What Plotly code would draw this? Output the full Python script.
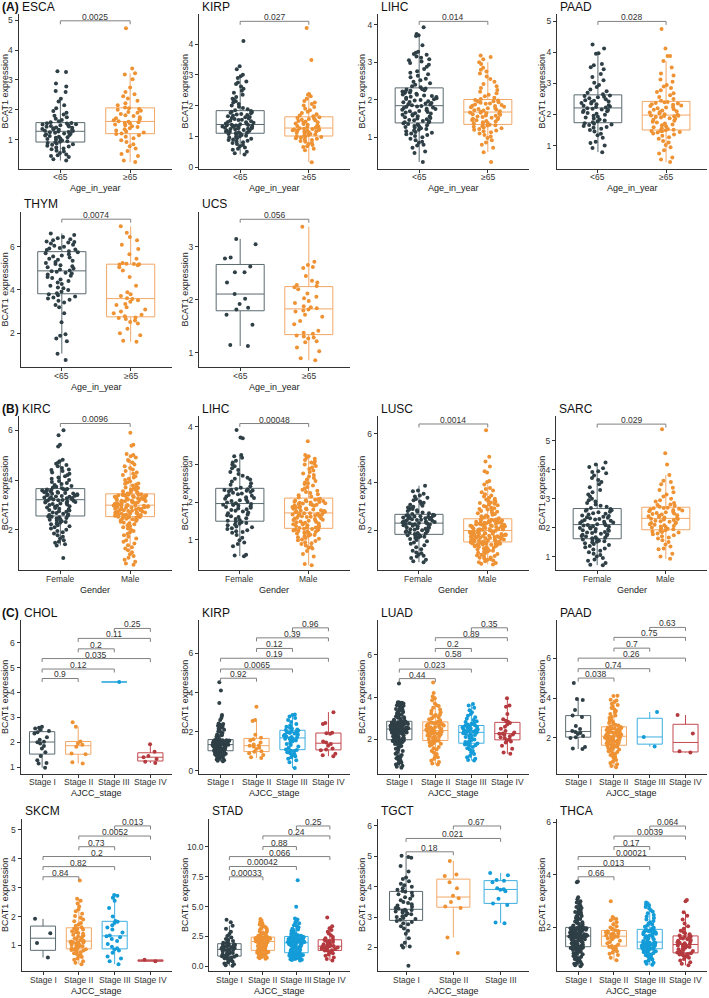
import plotly.graph_objects as go

W, H = 709, 998
FONT = "Liberation Sans, Arial, Helvetica, sans-serif"

PT = ["#2F3F46", "#EE9233", "#139CD8", "#B43A3F"]      # point colours per group
BX = ["#5A6A70", "#F2A766", "#3DAEE0", "#C24A4F"]      # box outline colours per group
AX = "#333333"

AGE = ["<65", "\u226565"]
SEX = ["Female", "Male"]
STAGE4 = ["Stage I", "Stage II", "Stage III", "Stage IV"]
STAGE3 = ["Stage I", "Stage II", "Stage III"]

# ---------------- data (BCAT1 expression) ----------------
esca_lt65 = [0.30, 0.34, 0.42, 0.45, 0.48, 0.50, 0.55, 0.60, 0.63, 0.68, 0.70, 0.74, 0.77, 0.80, 0.83, 0.85, 0.87, 0.89, 0.91,
             0.93, 0.95, 0.97, 1.00, 1.02, 1.04, 1.06, 1.08, 1.10, 1.12, 1.14, 1.16, 1.18, 1.20, 1.21, 1.23, 1.25, 1.26, 1.27,
             1.29, 1.30, 1.32, 1.33, 1.35, 1.36, 1.38, 1.40, 1.41, 1.43, 1.44, 1.46, 1.48, 1.49, 1.51, 1.52, 1.54, 1.55, 1.56,
             1.58, 1.62, 1.66, 1.70, 1.75, 1.80, 1.84, 1.90, 1.96, 2.05, 2.15, 2.28, 2.37, 2.60, 2.63, 2.78, 2.88, 3.27, 3.29]
esca_ge65 = [0.25, 0.30, 0.45, 0.52, 0.62, 0.70, 0.78, 0.85, 0.92, 0.98, 1.05, 1.10, 1.15, 1.19,
             1.21, 1.24, 1.27, 1.31, 1.35, 1.38, 1.42, 1.45, 1.48, 1.51, 1.54, 1.56, 1.58, 1.60,
             1.62, 1.65, 1.68, 1.72, 1.75, 1.79, 1.82, 1.86, 1.90, 1.93, 1.97, 2.00, 2.03, 2.05,
             2.08, 2.15, 2.22, 2.30, 2.38, 2.45, 2.52, 2.60, 2.75, 3.02, 3.18, 3.22, 3.38, 4.73]
kirpa_lt65 = [0.41, 0.45, 0.50, 0.56, 0.60, 0.64, 0.68, 0.72, 0.75, 0.78, 0.81, 0.84, 0.86, 0.88, 0.90, 0.92, 0.94, 0.96, 0.98, 1.00, 1.02, 1.04, 1.06, 1.08, 1.09,
              1.11, 1.12, 1.13, 1.15, 1.16, 1.17, 1.19, 1.20, 1.21, 1.23, 1.24, 1.25, 1.26, 1.27, 1.28, 1.29, 1.30, 1.31, 1.32, 1.33, 1.34, 1.35, 1.36, 1.37, 1.38,
              1.39, 1.41, 1.42, 1.44, 1.46, 1.47, 1.49, 1.51, 1.53, 1.54, 1.56, 1.58, 1.60, 1.62, 1.63, 1.65, 1.67, 1.69, 1.71, 1.73, 1.75, 1.77, 1.79, 1.80, 1.82,
              1.85, 1.88, 1.92, 1.96, 2.00, 2.05, 2.10, 2.14, 2.18, 2.22, 2.28, 2.35, 2.42, 2.48, 2.55, 2.62, 2.70, 2.75, 2.78, 2.90, 2.95, 3.00, 3.18, 3.28, 4.10]
kirpa_ge65 = [0.16, 0.55, 0.60, 0.65, 0.68, 0.72, 0.75, 0.78, 0.82, 0.85, 0.88, 0.90, 0.92, 0.94, 0.96, 0.98, 0.99, 1.00,
              1.02, 1.04, 1.06, 1.08, 1.10, 1.12, 1.13, 1.15, 1.16, 1.18, 1.19, 1.20, 1.21, 1.22, 1.23, 1.24, 1.25, 1.26,
              1.28, 1.30, 1.32, 1.34, 1.36, 1.38, 1.40, 1.42, 1.44, 1.46, 1.48, 1.50, 1.52, 1.54, 1.56, 1.58, 1.60, 1.62,
              1.65, 1.68, 1.72, 1.76, 1.80, 1.85, 1.90, 1.95, 2.00, 2.05, 2.10, 2.15, 2.22, 2.30, 2.35, 2.38, 3.48, 4.52]
lihca_lt65 = [0.34, 0.58, 0.62, 0.72, 0.78, 0.80, 0.85, 0.88, 0.92, 0.96, 1.00, 1.03, 1.06, 1.08, 1.10, 1.12, 1.14, 1.16, 1.18, 1.20, 1.22, 1.24, 1.26, 1.27, 1.29, 1.30, 1.32, 1.34, 1.35, 1.37,
              1.39, 1.40, 1.42, 1.43, 1.45, 1.46, 1.48, 1.50, 1.51, 1.53, 1.55, 1.56, 1.58, 1.60, 1.61, 1.63, 1.64, 1.66, 1.67, 1.69, 1.70, 1.72, 1.73, 1.75, 1.76, 1.78, 1.79, 1.81, 1.82, 1.83,
              1.85, 1.87, 1.88, 1.90, 1.91, 1.93, 1.94, 1.96, 1.98, 1.99, 2.01, 2.02, 2.04, 2.05, 2.07, 2.08, 2.10, 2.11, 2.13, 2.14, 2.16, 2.18, 2.19, 2.21, 2.22, 2.24, 2.25, 2.27, 2.28, 2.30,
              2.33, 2.36, 2.40, 2.44, 2.48, 2.52, 2.56, 2.60, 2.64, 2.68, 2.72, 2.76, 2.82, 2.88, 2.93, 2.98, 3.02, 3.05, 3.08, 3.12, 3.15, 3.20, 3.22, 3.25, 3.28, 3.45, 3.70, 3.72, 3.75, 3.93]
lihca_ge65 = [0.34, 0.60, 0.72, 0.80, 0.86, 0.92, 0.98, 1.02, 1.06, 1.10, 1.13, 1.16, 1.18, 1.20, 1.22, 1.24, 1.26, 1.28, 1.29, 1.31, 1.32, 1.33,
              1.35, 1.37, 1.38, 1.40, 1.42, 1.43, 1.45, 1.46, 1.48, 1.49, 1.51, 1.52, 1.54, 1.55, 1.57, 1.58, 1.60, 1.61, 1.63, 1.64, 1.65, 1.66,
              1.68, 1.69, 1.71, 1.72, 1.74, 1.75, 1.77, 1.78, 1.80, 1.81, 1.83, 1.84, 1.86, 1.87, 1.89, 1.90, 1.92, 1.93, 1.95, 1.96, 1.98, 1.99,
              2.02, 2.05, 2.09, 2.13, 2.17, 2.21, 2.26, 2.31, 2.36, 2.42, 2.48, 2.55, 2.62, 2.70, 2.75, 2.80, 2.85, 2.95, 3.00, 3.08, 3.14, 3.18]
paada_lt65 = [0.79, 0.92, 1.00, 1.08, 1.12, 1.25, 1.33, 1.38, 1.45, 1.50, 1.54, 1.57, 1.60, 1.63, 1.66, 1.68, 1.70, 1.72,
              1.75, 1.78, 1.81, 1.84, 1.87, 1.90, 1.93, 1.96, 1.99, 2.02, 2.05, 2.08, 2.10, 2.12, 2.14, 2.16, 2.18, 2.20,
              2.22, 2.24, 2.26, 2.28, 2.30, 2.33, 2.35, 2.37, 2.40, 2.42, 2.44, 2.46, 2.49, 2.52, 2.55, 2.57, 2.59, 2.61,
              2.65, 2.70, 2.75, 2.80, 2.88, 2.95, 3.02, 3.10, 3.20, 3.30, 3.45, 3.52, 3.58, 3.62, 3.95, 3.97, 4.12, 4.25]
paada_ge65 = [0.47, 0.55, 0.62, 0.75, 0.85, 0.95, 1.02, 1.10, 1.15, 1.22, 1.27, 1.32, 1.36, 1.39, 1.42, 1.44, 1.46, 1.47, 1.48, 1.49,
              1.51, 1.53, 1.56, 1.59, 1.62, 1.65, 1.68, 1.71, 1.74, 1.77, 1.80, 1.83, 1.86, 1.88, 1.90, 1.92, 1.94, 1.95, 1.96, 1.97,
              1.99, 2.01, 2.04, 2.06, 2.08, 2.10, 2.13, 2.15, 2.17, 2.20, 2.22, 2.24, 2.27, 2.29, 2.31, 2.33, 2.35, 2.37, 2.39, 2.40,
              2.44, 2.50, 2.56, 2.62, 2.68, 2.72, 2.78, 2.85, 2.90, 2.95, 3.05, 3.12, 3.25, 3.32, 3.51, 3.72, 3.88, 3.88, 4.12, 4.75]
thym_lt65 = [0.75, 1.05, 1.62, 1.75, 1.88, 1.95, 2.50, 2.92, 3.20, 3.30, 3.42, 3.50, 3.55, 3.60, 3.65, 3.70, 3.75, 3.80,
             3.85, 3.92, 4.00, 4.08, 4.12, 4.20, 4.28, 4.35, 4.42, 4.48, 4.55, 4.60, 4.66, 4.72, 4.76, 4.80, 4.84, 4.87,
             4.90, 4.95, 5.00, 5.05, 5.10, 5.15, 5.20, 5.25, 5.30, 5.35, 5.40, 5.45, 5.50, 5.55, 5.60, 5.65, 5.70, 5.75,
             5.80, 5.85, 5.88, 5.92, 5.95, 6.00, 6.05, 6.10, 6.15, 6.20, 6.22, 6.25, 6.30, 6.35, 6.40, 6.45, 6.55, 6.62]
thym_ge65 = [1.60, 1.65, 1.90, 2.00, 2.20, 2.45, 2.52, 2.58, 2.65, 2.70, 2.73,
             2.78, 2.85, 2.92, 3.00, 3.10, 3.20, 3.30, 3.35, 3.45, 3.52, 3.58,
             3.62, 3.72, 3.80, 3.90, 4.20, 4.60, 4.90, 5.05, 5.15, 5.18, 5.19,
             5.20, 5.22, 5.25, 5.45, 5.65, 5.90, 6.10, 6.30, 6.45, 6.65, 6.95]
ucs_lt65 = [1.13, 1.15, 1.53, 1.72, 1.82, 1.85, 1.92, 2.02, 2.11, 2.33, 2.52, 2.52, 2.63, 2.78, 2.80, 3.05, 3.15]
ucs_ge65 = [0.86, 0.90, 1.03, 1.10, 1.20, 1.22, 1.27, 1.29, 1.31, 1.33,
            1.36, 1.38, 1.42, 1.54, 1.60, 1.68, 1.72, 1.78, 1.80, 1.82,
            1.84, 1.86, 1.88, 1.94, 1.98, 2.03, 2.06, 2.12, 2.20, 2.24,
            2.26, 2.28, 2.33, 2.36, 2.45, 2.60, 2.62, 2.66, 2.72, 3.38]
kirc_f = [0.87, 1.37, 1.42, 1.48, 1.52, 1.58, 1.65, 1.72, 1.78, 1.85, 1.90, 1.95, 2.00, 2.05, 2.10, 2.14, 2.18, 2.22, 2.25, 2.28, 2.31, 2.34, 2.37, 2.40, 2.42, 2.45, 2.47, 2.50, 2.52, 2.54,
          2.57, 2.60, 2.62, 2.65, 2.68, 2.70, 2.73, 2.75, 2.78, 2.80, 2.83, 2.85, 2.88, 2.90, 2.93, 2.95, 2.97, 3.00, 3.02, 3.04, 3.06, 3.08, 3.10, 3.12, 3.14, 3.15, 3.17, 3.18, 3.19, 3.20,
          3.22, 3.24, 3.25, 3.27, 3.28, 3.30, 3.31, 3.33, 3.34, 3.36, 3.37, 3.39, 3.40, 3.42, 3.43, 3.45, 3.46, 3.48, 3.49, 3.51, 3.52, 3.54, 3.55, 3.57, 3.58, 3.60, 3.61, 3.62, 3.63, 3.64,
          3.67, 3.70, 3.73, 3.76, 3.80, 3.84, 3.88, 3.92, 3.96, 4.00, 4.05, 4.10, 4.15, 4.20, 4.25, 4.30, 4.36, 4.42, 4.48, 4.55, 4.60, 4.65, 4.70, 4.75, 4.81, 5.35, 5.42, 5.80, 6.00, 4.40]
kirc_m = [0.60, 0.65, 0.72, 0.80, 0.88, 0.95, 1.02, 1.10, 1.18, 1.25, 1.30, 1.38, 1.45, 1.52, 1.58, 1.65, 1.72, 1.78, 1.84, 1.90,
          1.95, 2.00, 2.05, 2.10, 2.14, 2.18, 2.22, 2.26, 2.29, 2.32, 2.35, 2.38, 2.40, 2.42, 2.44, 2.46, 2.48, 2.50, 2.51, 2.52,
          2.54, 2.55, 2.56, 2.57, 2.59, 2.60, 2.61, 2.62, 2.64, 2.65, 2.66, 2.67, 2.69, 2.70, 2.71, 2.72, 2.74, 2.75, 2.76, 2.77,
          2.79, 2.80, 2.81, 2.82, 2.84, 2.85, 2.86, 2.87, 2.89, 2.90, 2.91, 2.92, 2.93, 2.94, 2.95, 2.96, 2.97, 2.97, 2.98, 2.98,
          3.00, 3.01, 3.02, 3.03, 3.05, 3.06, 3.07, 3.08, 3.10, 3.11, 3.12, 3.13, 3.15, 3.16, 3.17, 3.18, 3.20, 3.21, 3.22, 3.23,
          3.25, 3.26, 3.27, 3.28, 3.30, 3.31, 3.32, 3.33, 3.35, 3.36, 3.37, 3.38, 3.39, 3.40, 3.41, 3.41, 3.42, 3.42, 3.43, 3.43,
          3.46, 3.49, 3.52, 3.55, 3.58, 3.62, 3.66, 3.70, 3.74, 3.78, 3.82, 3.86, 3.90, 3.95, 4.00, 4.05, 4.10, 4.15, 4.20, 4.25,
          4.30, 4.36, 4.42, 4.48, 4.55, 4.62, 4.70, 4.76, 4.80, 4.90, 4.95, 5.00, 5.05, 5.38, 5.42, 5.90, 3.50, 3.60, 3.68, 3.85]
lihcb_f = [0.56, 0.58, 0.60, 0.82, 0.88, 0.92, 0.98, 1.05, 1.12, 1.18, 1.20, 1.22, 1.25, 1.28, 1.30, 1.33, 1.35, 1.38, 1.40, 1.42, 1.44, 1.46, 1.48,
           1.50, 1.52, 1.55, 1.57, 1.60, 1.62, 1.65, 1.67, 1.70, 1.72, 1.75, 1.77, 1.79, 1.81, 1.83, 1.85, 1.87, 1.89, 1.90, 1.92, 1.93, 1.94, 1.95,
           1.97, 1.99, 2.01, 2.03, 2.05, 2.07, 2.09, 2.11, 2.13, 2.15, 2.17, 2.19, 2.21, 2.23, 2.25, 2.27, 2.29, 2.30, 2.31, 2.32, 2.33, 2.34, 2.35,
           2.38, 2.42, 2.46, 2.50, 2.55, 2.60, 2.65, 2.70, 2.75, 2.80, 2.85, 2.90, 2.95, 3.00, 3.05, 3.10, 3.18, 3.22, 3.25, 3.70, 3.72, 3.92, 2.62]
lihcb_m = [0.32, 0.35, 0.55, 0.62, 0.70, 0.76, 0.78, 0.80, 0.84, 0.88, 0.90, 0.93, 0.96, 0.98, 1.00, 1.02, 1.04, 1.06, 1.08, 1.10, 1.12, 1.13, 1.15, 1.16, 1.18, 1.19, 1.20, 1.22, 1.23, 1.24, 1.25, 1.26, 1.27, 1.28, 1.29,
           1.31, 1.32, 1.33, 1.35, 1.36, 1.37, 1.38, 1.40, 1.41, 1.42, 1.43, 1.45, 1.46, 1.47, 1.48, 1.50, 1.51, 1.52, 1.53, 1.55, 1.56, 1.57, 1.58, 1.60, 1.61, 1.62, 1.63, 1.64, 1.65, 1.66, 1.67, 1.68, 1.69, 1.70, 1.70,
           1.72, 1.73, 1.74, 1.75, 1.76, 1.77, 1.78, 1.80, 1.81, 1.82, 1.83, 1.84, 1.85, 1.86, 1.87, 1.88, 1.90, 1.91, 1.92, 1.93, 1.94, 1.95, 1.96, 1.97, 1.98, 1.99, 2.00, 2.01, 2.02, 2.03, 2.04, 2.05, 2.06, 2.07, 2.09,
           2.12, 2.15, 2.18, 2.21, 2.24, 2.27, 2.30, 2.33, 2.36, 2.40, 2.44, 2.48, 2.52, 2.56, 2.60, 2.64, 2.68, 2.72, 2.76, 2.80, 2.84, 2.88, 2.92, 2.96, 3.00, 3.02, 3.05, 3.08, 3.12, 3.15, 3.18, 3.22, 3.25, 3.62, 2.50]
lusc_f = [0.68, 0.72, 0.78, 0.85, 0.92, 0.95, 1.00, 1.05, 1.08, 1.15, 1.22, 1.30, 1.38, 1.45, 1.50, 1.55, 1.60, 1.64, 1.68, 1.71, 1.74, 1.76, 1.78, 1.80, 1.82,
          1.85, 1.87, 1.89, 1.91, 1.93, 1.95, 1.97, 1.99, 2.01, 2.03, 2.05, 2.07, 2.09, 2.11, 2.13, 2.15, 2.17, 2.19, 2.21, 2.23, 2.24, 2.25, 2.26, 2.28, 2.29,
          2.31, 2.32, 2.34, 2.35, 2.37, 2.38, 2.40, 2.41, 2.43, 2.44, 2.46, 2.47, 2.49, 2.50, 2.52, 2.53, 2.55, 2.56, 2.58, 2.59, 2.61, 2.62, 2.63, 2.64, 2.65,
          2.68, 2.71, 2.74, 2.77, 2.80, 2.83, 2.86, 2.89, 2.92, 2.95, 2.98, 3.02, 3.06, 3.10, 3.15, 3.20, 3.25, 3.30, 3.35, 3.40, 3.45, 3.52, 3.62, 3.65, 3.85]
lusc_m = [0.59, 0.62, 0.65, 0.68, 0.72, 0.75, 0.78, 0.80, 0.83, 0.86, 0.88, 0.91, 0.94, 0.96, 0.99, 1.02, 1.04, 1.07, 1.10, 1.12, 1.15, 1.17, 1.20,
          1.22, 1.24, 1.26, 1.28, 1.30, 1.32, 1.34, 1.35, 1.37, 1.38, 1.40, 1.41, 1.42, 1.43, 1.44, 1.45, 1.46, 1.47, 1.48, 1.49, 1.50, 1.51,
          1.53, 1.54, 1.55, 1.56, 1.57, 1.58, 1.59, 1.60, 1.62, 1.63, 1.64, 1.65, 1.66, 1.67, 1.68, 1.69, 1.70, 1.71, 1.72, 1.73, 1.74, 1.75, 1.76,
          1.77, 1.78, 1.79, 1.80, 1.81, 1.82, 1.83, 1.84, 1.85, 1.86, 1.87, 1.88, 1.89, 1.90, 1.91, 1.92, 1.93, 1.94, 1.95, 1.96, 1.97, 1.98,
          2.01, 2.02, 2.03, 2.04, 2.05, 2.06, 2.07, 2.08, 2.10, 2.11, 2.12, 2.13, 2.14, 2.15, 2.16, 2.17, 2.18, 2.19, 2.20, 2.21, 2.22, 2.23, 2.24,
          2.25, 2.26, 2.27, 2.28, 2.29, 2.30, 2.31, 2.32, 2.33, 2.34, 2.35, 2.36, 2.37, 2.38, 2.39, 2.40, 2.41, 2.42, 2.43, 2.44, 2.45, 2.46,
          2.50, 2.53, 2.56, 2.59, 2.62, 2.65, 2.68, 2.71, 2.74, 2.77, 2.80, 2.83, 2.86, 2.89, 2.92, 2.95, 2.98, 3.01, 3.04, 3.07, 3.10, 3.13,
          3.16, 3.19, 3.22, 3.25, 3.28, 3.31, 3.35, 3.40, 3.45, 3.50, 3.58, 3.65, 3.72, 3.76, 3.90, 4.00, 4.05, 4.40, 4.45, 4.65, 4.85, 5.05, 6.15]
sarc_f = [0.70, 0.72, 0.78, 0.85, 0.90, 0.95, 1.00, 1.05, 1.10, 1.15, 1.20, 1.24, 1.28, 1.32, 1.36, 1.40, 1.43, 1.46, 1.49, 1.51, 1.53, 1.55, 1.57, 1.59, 1.60,
          1.63, 1.65, 1.67, 1.69, 1.71, 1.73, 1.75, 1.77, 1.79, 1.81, 1.83, 1.85, 1.87, 1.89, 1.91, 1.93, 1.95, 1.97, 1.99, 2.01, 2.03, 2.05, 2.07, 2.08, 2.09,
          2.12, 2.14, 2.16, 2.18, 2.20, 2.22, 2.24, 2.26, 2.28, 2.30, 2.32, 2.34, 2.36, 2.38, 2.40, 2.42, 2.45, 2.48, 2.50, 2.53, 2.55, 2.58, 2.60, 2.62, 2.64,
          2.68, 2.72, 2.76, 2.80, 2.85, 2.90, 2.95, 3.00, 3.08, 3.15, 3.22, 3.30, 3.40, 3.50, 3.58, 3.65, 3.72, 3.80, 3.88, 3.92, 3.95, 4.05, 4.10, 4.18, 4.25]
sarc_m = [0.92, 1.00, 1.10, 1.25, 1.28, 1.35, 1.42, 1.50, 1.56, 1.62, 1.66, 1.70, 1.74, 1.77, 1.80, 1.83, 1.85, 1.87, 1.89, 1.91,
          1.94, 1.96, 1.98, 2.00, 2.02, 2.04, 2.06, 2.08, 2.10, 2.12, 2.14, 2.16, 2.18, 2.20, 2.22, 2.24, 2.26, 2.28, 2.30, 2.31,
          2.33, 2.35, 2.37, 2.39, 2.41, 2.43, 2.45, 2.47, 2.49, 2.51, 2.53, 2.55, 2.57, 2.59, 2.61, 2.63, 2.65, 2.67, 2.68, 2.69,
          2.72, 2.76, 2.78, 2.80, 2.85, 2.90, 2.95, 3.00, 3.08, 3.15, 3.22, 3.30, 3.38, 3.50, 3.58, 3.62, 3.82, 4.18, 4.57, 5.40]
chol_s1 = [0.98, 1.15, 1.17, 1.28, 1.45, 1.60, 1.75, 1.85, 1.95, 2.00, 2.02, 2.10, 2.20, 2.35, 2.40, 2.45, 2.50, 2.55, 2.58, 2.62]
chol_s2 = [1.15, 1.20, 1.52, 1.55, 1.82, 1.90, 1.95, 2.03, 2.62, 2.80]
chol_s3 = [4.42]
chol_s4 = [1.17, 1.22, 1.33, 1.40, 1.45, 1.62, 1.92]
kirpc_s1 = [0.49, 0.52, 0.55, 0.58, 0.62, 0.65, 0.68, 0.70, 0.73, 0.75, 0.78, 0.80, 0.82, 0.84, 0.86, 0.88, 0.90, 0.92, 0.93, 0.95, 0.96, 0.97, 0.98, 0.99, 1.00, 1.01, 1.02,
            1.04, 1.05, 1.06, 1.08, 1.09, 1.10, 1.12, 1.13, 1.14, 1.16, 1.17, 1.18, 1.20, 1.21, 1.22, 1.24, 1.25, 1.26, 1.27, 1.28, 1.29, 1.30, 1.31, 1.32, 1.33, 1.33, 1.34,
            1.35, 1.36, 1.37, 1.38, 1.39, 1.40, 1.41, 1.42, 1.43, 1.44, 1.45, 1.46, 1.47, 1.48, 1.49, 1.50, 1.51, 1.52, 1.53, 1.54, 1.55, 1.56, 1.56, 1.57, 1.57, 1.58, 1.58,
            1.62, 1.66, 1.70, 1.74, 1.78, 1.82, 1.86, 1.90, 1.94, 1.98, 2.02, 2.06, 2.10, 2.15, 2.20, 2.25, 2.30, 2.36, 2.40, 2.42, 2.60, 2.70, 2.80, 2.85, 3.47, 4.10, 4.52]
kirpc_s2 = [0.66, 0.70, 0.82, 0.90, 0.98, 1.00, 1.12, 1.18, 1.25, 1.28, 1.30, 1.35, 1.45, 1.55, 1.62, 1.70, 1.85, 2.55, 2.60, 3.28]
kirpc_s3 = [0.15, 0.45, 0.55, 0.62, 0.70, 0.75, 0.80, 0.85, 0.90, 0.95, 1.00, 1.04, 1.07,
            1.10, 1.18, 1.25, 1.32, 1.38, 1.44, 1.50, 1.55, 1.58, 1.61, 1.64, 1.66, 1.67,
            1.70, 1.73, 1.76, 1.79, 1.82, 1.85, 1.88, 1.91, 1.94, 1.97, 2.00, 2.03, 2.06,
            2.09, 2.12, 2.16, 2.20, 2.25, 2.32, 2.40, 2.50, 2.60, 2.70, 2.78, 2.85, 2.88]
kirpc_s4 = [0.75, 0.80, 0.88, 1.05, 1.10, 1.15, 1.28, 1.38, 1.45, 1.50, 1.90, 1.92, 1.95, 2.40, 2.45, 3.00]
luad_s1 = [0.65, 0.70, 0.75, 0.80, 0.85, 0.90, 0.95, 1.00, 1.05, 1.10, 1.15, 1.20, 1.26, 1.32, 1.38, 1.44, 1.50, 1.55, 1.60, 1.64, 1.68, 1.72, 1.75, 1.78, 1.81, 1.84, 1.86, 1.88, 1.90, 1.92, 1.93, 1.94, 1.95, 1.96, 1.97,
           1.99, 2.01, 2.03, 2.05, 2.07, 2.09, 2.11, 2.13, 2.15, 2.17, 2.19, 2.21, 2.23, 2.25, 2.26, 2.28, 2.29, 2.31, 2.32, 2.34, 2.35, 2.36, 2.37, 2.38, 2.39, 2.40, 2.41, 2.42, 2.43, 2.44, 2.45, 2.46, 2.47, 2.48, 2.48,
           2.50, 2.51, 2.52, 2.53, 2.54, 2.55, 2.56, 2.57, 2.58, 2.59, 2.60, 2.61, 2.62, 2.63, 2.64, 2.65, 2.66, 2.67, 2.68, 2.69, 2.70, 2.71, 2.72, 2.73, 2.74, 2.75, 2.76, 2.77, 2.78, 2.79, 2.80, 2.81, 2.82, 2.83, 2.84,
           2.87, 2.90, 2.93, 2.96, 2.99, 3.02, 3.05, 3.08, 3.11, 3.14, 3.17, 3.20, 3.23, 3.26, 3.29, 3.32, 3.35, 3.38, 3.41, 3.44, 3.47, 3.50, 3.53, 3.56, 3.59, 3.62, 3.65, 3.68, 3.70, 3.72, 3.73, 3.74, 3.75, 3.76, 4.65]
luad_s2 = [0.80, 0.85, 0.92, 1.00, 1.08, 1.15, 1.22, 1.30, 1.38, 1.45, 1.52, 1.58, 1.64, 1.70, 1.75, 1.79, 1.83, 1.86, 1.89, 1.91, 1.93,
           1.96, 1.99, 2.02, 2.05, 2.08, 2.11, 2.14, 2.16, 2.18, 2.20, 2.22, 2.24, 2.26, 2.28, 2.30, 2.32, 2.34, 2.36, 2.38, 2.39, 2.40,
           2.43, 2.45, 2.47, 2.49, 2.51, 2.53, 2.55, 2.57, 2.59, 2.61, 2.63, 2.65, 2.67, 2.69, 2.71, 2.73, 2.75, 2.77, 2.79, 2.80, 2.81,
           2.85, 2.90, 2.95, 3.00, 3.05, 3.10, 3.15, 3.16, 3.22, 3.28, 3.35, 3.42, 3.50, 3.58, 3.62, 3.70, 3.85, 3.95, 4.03, 4.20, 4.70]
luad_s3 = [0.99, 1.02, 1.08, 1.15, 1.22, 1.30, 1.38, 1.45, 1.52, 1.58, 1.63, 1.68, 1.72, 1.75, 1.78, 1.80,
           1.83, 1.87, 1.91, 1.95, 1.99, 2.03, 2.07, 2.11, 2.15, 2.18, 2.21, 2.24, 2.27, 2.29, 2.31, 2.32,
           2.34, 2.36, 2.38, 2.40, 2.42, 2.44, 2.46, 2.48, 2.50, 2.52, 2.54, 2.56, 2.58, 2.60, 2.62, 2.64,
           2.67, 2.70, 2.74, 2.78, 2.82, 2.86, 2.92, 2.98, 3.05, 3.12, 3.20, 3.28, 3.38, 3.50, 3.60, 3.67]
luad_s4 = [1.31, 1.38, 1.55, 1.70, 1.85, 1.90, 1.95, 2.00, 2.05, 2.10, 2.15, 2.20, 2.23, 2.26, 2.28, 2.32, 2.40, 2.50,
           2.60, 2.70, 2.78, 2.83, 2.88, 2.95, 3.20, 3.55, 3.60, 3.95]
paadc_s1 = [1.45, 1.47, 1.55, 2.00, 2.04, 2.10, 2.20, 2.25, 2.30, 2.35, 2.45, 2.60, 3.05, 3.12, 3.40, 3.90, 3.95, 4.75]
paadc_s2 = [0.53, 0.60, 0.68, 0.75, 0.82, 0.90, 0.98, 1.05, 1.10, 1.15, 1.20, 1.25, 1.30, 1.34, 1.38, 1.42, 1.45, 1.48, 1.51, 1.54, 1.56, 1.58, 1.60, 1.61, 1.62,
            1.65, 1.67, 1.69, 1.71, 1.73, 1.75, 1.77, 1.79, 1.81, 1.83, 1.85, 1.87, 1.89, 1.91, 1.93, 1.95, 1.97, 1.99, 2.01, 2.02, 2.03, 2.04, 2.05, 2.06, 2.07,
            2.10, 2.12, 2.14, 2.16, 2.18, 2.20, 2.22, 2.24, 2.26, 2.28, 2.30, 2.32, 2.34, 2.36, 2.38, 2.40, 2.42, 2.44, 2.46, 2.48, 2.50, 2.51, 2.52, 2.53, 2.54,
            2.58, 2.62, 2.66, 2.70, 2.75, 2.80, 2.85, 2.90, 2.95, 3.00, 3.05, 3.12, 3.20, 3.28, 3.35, 3.42, 3.50, 3.58, 3.65, 3.72, 3.80, 3.88, 3.92, 4.10, 4.12]
paadc_s3 = [1.57, 2.05, 3.30]
paadc_s4 = [1.27, 1.33, 2.22, 3.15]
skcm_s1 = [0.58, 1.08, 1.42, 1.92]
skcm_s2 = [0.35, 0.40, 0.45, 0.50, 0.55, 0.60, 0.63, 0.66, 0.70, 0.73, 0.76, 0.79, 0.82, 0.84, 0.86, 0.87,
           0.89, 0.91, 0.93, 0.95, 0.97, 0.99, 1.01, 1.03, 1.05, 1.07, 1.09, 1.10, 1.11, 1.12, 1.13, 1.14,
           1.16, 1.19, 1.22, 1.25, 1.28, 1.31, 1.34, 1.37, 1.40, 1.43, 1.46, 1.49, 1.52, 1.55, 1.57, 1.59,
           1.63, 1.68, 1.73, 1.78, 1.84, 1.90, 1.96, 2.02, 2.10, 2.18, 2.25, 2.35, 2.45, 2.55, 2.62, 3.25]
skcm_s3 = [0.35, 0.45, 0.55, 0.62, 0.75, 0.82, 0.86, 0.90, 0.95, 1.05, 1.15, 1.22, 1.28, 1.32, 1.34, 1.45, 1.55, 1.62,
           1.70, 1.78, 1.82, 1.85, 2.00, 2.30, 2.55, 2.65, 2.72, 2.75]
skcm_s4 = [0.45, 0.50]
stad_s1 = [0.05, 0.10, 0.18, 0.25, 0.32, 0.40, 0.48, 0.55, 0.62, 0.68, 0.73, 0.77, 0.81, 0.84,
           0.88, 0.92, 0.96, 1.00, 1.04, 1.08, 1.12, 1.16, 1.20, 1.25, 1.30, 1.35, 1.38, 1.40,
           1.44, 1.48, 1.52, 1.55, 1.58, 1.61, 1.64, 1.67, 1.70, 1.74, 1.78, 1.82, 1.85, 1.88,
           1.92, 1.98, 2.05, 2.12, 2.20, 2.30, 2.42, 2.55, 2.70, 2.90, 3.15, 3.40, 3.70, 3.90]
stad_s2 = [0.63, 0.68, 0.72, 0.76, 0.80, 0.84, 0.88, 0.92, 0.96, 1.00, 1.04, 1.08, 1.12, 1.15, 1.18, 1.21, 1.24, 1.26, 1.28, 1.30, 1.32,
           1.36, 1.40, 1.44, 1.48, 1.52, 1.56, 1.60, 1.64, 1.68, 1.72, 1.76, 1.80, 1.84, 1.88, 1.92, 1.95, 1.98, 2.01, 2.03, 2.05, 2.07,
           2.09, 2.11, 2.13, 2.15, 2.17, 2.19, 2.21, 2.23, 2.25, 2.27, 2.29, 2.31, 2.33, 2.35, 2.37, 2.38, 2.39, 2.40, 2.41, 2.42, 2.43,
           2.47, 2.52, 2.57, 2.62, 2.68, 2.74, 2.80, 2.86, 2.92, 2.98, 3.05, 3.12, 3.20, 3.28, 3.35, 3.42, 3.50, 3.60, 3.72, 3.85, 3.97]
stad_s3 = [0.50, 0.53, 0.56, 0.59, 0.62, 0.65, 0.68, 0.71, 0.74, 0.77, 0.80, 0.83, 0.86, 0.89, 0.92, 0.95, 0.98, 1.00, 1.02, 1.04, 1.06, 1.08, 1.10, 1.11, 1.12,
           1.16, 1.20, 1.24, 1.28, 1.32, 1.36, 1.40, 1.44, 1.48, 1.52, 1.56, 1.60, 1.64, 1.68, 1.72, 1.76, 1.80, 1.83, 1.86, 1.88, 1.90, 1.92, 1.94, 1.95, 1.96,
           1.99, 2.01, 2.03, 2.05, 2.07, 2.09, 2.11, 2.13, 2.15, 2.17, 2.19, 2.21, 2.23, 2.25, 2.27, 2.29, 2.31, 2.33, 2.35, 2.37, 2.40, 2.42, 2.44, 2.46, 2.48,
           2.53, 2.57, 2.61, 2.65, 2.70, 2.75, 2.80, 2.85, 2.90, 2.96, 3.02, 3.08, 3.14, 3.20, 3.28, 3.36, 3.44, 3.52, 3.62, 3.72, 3.82, 3.92, 4.00, 5.00, 7.20]
stad_s4 = [0.50, 0.62, 0.75, 0.88, 1.00, 1.10, 1.18, 1.25, 1.30, 1.32, 1.35, 1.40, 1.45, 1.50, 1.55, 1.58, 1.62, 1.65, 1.67, 1.68,
           1.70, 1.75, 1.80, 1.86, 1.92, 1.98, 2.05, 2.10, 2.15, 2.20, 2.25, 2.35, 2.45, 2.60, 2.75, 2.90, 3.05, 3.20, 3.35, 4.10]
tgct_s1 = [1.40, 2.00, 2.03, 2.06, 2.15, 2.30, 2.45, 2.55, 2.62, 2.70, 2.76, 2.80, 2.84, 2.87,
           2.91, 2.94, 2.97, 3.00, 3.03, 3.06, 3.09, 3.12, 3.15, 3.18, 3.20, 3.22, 3.23, 3.24,
           3.27, 3.30, 3.34, 3.38, 3.42, 3.46, 3.50, 3.55, 3.60, 3.65, 3.70, 3.75, 3.80, 3.83,
           3.86, 3.90, 3.95, 4.00, 4.05, 4.10, 4.18, 4.25, 4.30, 4.50, 4.68, 4.95, 4.98, 5.02]
tgct_s2 = [1.82, 2.33, 3.30, 3.35, 3.50, 3.62, 3.70, 3.95, 4.15, 4.35, 4.40, 4.85]
tgct_s3 = [2.80, 2.82, 3.40, 3.45, 3.60, 3.85, 3.90, 3.92, 3.95, 4.15, 4.20, 4.22, 4.38, 4.45]
thca_s1 = [0.53, 0.56, 0.59, 0.62, 0.65, 0.68, 0.71, 0.74, 0.77, 0.80, 0.83, 0.86, 0.89, 0.92, 0.95, 0.98, 1.00, 1.02, 1.04, 1.06, 1.08, 1.10, 1.12, 1.14, 1.16, 1.18, 1.19, 1.20, 1.21, 1.22, 1.23, 1.24, 1.25, 1.26, 1.26,
           1.28, 1.30, 1.31, 1.33, 1.34, 1.36, 1.37, 1.39, 1.40, 1.42, 1.43, 1.45, 1.46, 1.48, 1.49, 1.51, 1.52, 1.54, 1.55, 1.57, 1.58, 1.59, 1.60, 1.61, 1.62, 1.63, 1.64, 1.65, 1.65, 1.66, 1.66, 1.66, 1.67, 1.67, 1.67,
           1.68, 1.69, 1.70, 1.71, 1.72, 1.73, 1.74, 1.75, 1.76, 1.77, 1.78, 1.79, 1.80, 1.81, 1.82, 1.83, 1.84, 1.85, 1.86, 1.87, 1.88, 1.89, 1.90, 1.91, 1.92, 1.93, 1.94, 1.95, 1.96, 1.97, 1.97, 1.98, 1.98, 1.99, 1.99,
           2.02, 2.05, 2.08, 2.11, 2.14, 2.17, 2.20, 2.23, 2.26, 2.29, 2.32, 2.35, 2.38, 2.41, 2.44, 2.47, 2.50, 2.53, 2.56, 2.59, 2.62, 2.65, 2.68, 2.71, 2.74, 2.78, 2.82, 2.86, 2.90, 2.95, 3.00, 3.08, 3.15, 3.72, 3.75]
thca_s2 = [0.75, 0.85, 0.95, 1.00, 1.05, 1.10, 1.15, 1.20, 1.24, 1.27, 1.28, 1.30, 1.35, 1.40, 1.45, 1.50, 1.55, 1.58, 1.61, 1.63, 1.65, 1.66,
           1.68, 1.70, 1.72, 1.74, 1.76, 1.78, 1.80, 1.82, 1.84, 1.86, 1.87, 1.90, 1.95, 2.00, 2.05, 2.12, 2.20, 2.28, 2.32, 2.35, 2.40, 3.00]
thca_s3 = [0.58, 0.62, 0.66, 0.70, 0.74, 0.78, 0.82, 0.86, 0.90, 0.94, 0.97, 1.00, 1.03, 1.06, 1.08, 1.10, 1.12, 1.14, 1.16, 1.17, 1.18,
           1.20, 1.21, 1.22, 1.23, 1.25, 1.26, 1.27, 1.28, 1.30, 1.31, 1.32, 1.33, 1.35, 1.36, 1.37, 1.38, 1.40, 1.41, 1.42, 1.43, 1.43,
           1.46, 1.49, 1.52, 1.55, 1.58, 1.61, 1.64, 1.67, 1.70, 1.72, 1.74, 1.76, 1.78, 1.80, 1.82, 1.84, 1.86, 1.88, 1.89, 1.90, 1.91,
           1.95, 1.99, 2.03, 2.07, 2.11, 2.15, 2.20, 2.25, 2.30, 2.36, 2.42, 2.48, 2.54, 2.60, 2.66, 2.72, 2.78, 2.84, 2.88, 2.92, 2.95]
thca_s4 = [0.56, 0.62, 0.68, 0.74, 0.80, 0.85, 0.88, 0.91, 0.94, 0.97, 0.99, 1.01, 1.02,
           1.05, 1.08, 1.11, 1.14, 1.17, 1.20, 1.23, 1.26, 1.28, 1.30, 1.32, 1.33, 1.34,
           1.37, 1.40, 1.42, 1.44, 1.47, 1.50, 1.52, 1.55, 1.58, 1.60, 1.62, 1.64, 1.66,
           1.70, 1.74, 1.78, 1.83, 1.88, 1.95, 2.05, 2.15, 2.30, 2.45, 2.58, 3.00, 3.05]

# ---------------- panel set-up: pixel boxes of each plotting area ----------------
YT_X = [5, 185, 362, 542]   # x of the rotated y-axis titles per column
panels = [
    dict(tag="(A)", title="ESCA", col=0, px=(18.5, 172), py=(13.3, 168.3), yr=(0.03, 5.2), yt=[1, 2, 3, 4, 5],
         cats=AGE, xt="Age_in_year", data=[esca_lt65, esca_ge65], br=[(1, 2, "0.0025", 4.98)]),
    dict(title="KIRP", col=1, px=(199, 350), py=(13.3, 168.3), yr=(-0.05, 4.97), yt=[0, 1, 2, 3, 4],
         cats=AGE, xt="Age_in_year", data=[kirpa_lt65, kirpa_ge65], br=[(1, 2, "0.027", 4.74)]),
    dict(title="LIHC", col=2, px=(378, 529), py=(13.3, 168.3), yr=(0.16, 4.28), yt=[1, 2, 3, 4],
         cats=AGE, xt="Age_in_year", data=[lihca_lt65, lihca_ge65], br=[(1, 2, "0.014", 4.09)]),
    dict(title="PAAD", col=3, px=(557, 707), py=(13.3, 168.3), yr=(0.26, 5.22), yt=[1, 2, 3, 4, 5],
         cats=AGE, xt="Age_in_year", data=[paada_lt65, paada_ge65], br=[(1, 2, "0.028", 4.99)]),
    dict(title="THYM", col=0, px=(20.5, 172), py=(211.7, 367.7), yr=(0.42, 7.62), yt=[2, 4, 6],
         cats=AGE, xt="Age_in_year", data=[thym_lt65, thym_ge65], br=[(1, 2, "0.0074", 7.28)]),
    dict(title="UCS", col=1, px=(199, 350), py=(211.7, 367.7), yr=(0.73, 3.66), yt=[1, 2, 3],
         cats=AGE, xt="Age_in_year", data=[ucs_lt65, ucs_ge65], br=[(1, 2, "0.056", 3.52)]),
    dict(tag="(B)", title="KIRC", col=0, px=(18.5, 172), py=(416.7, 571.7), yr=(0.37, 6.57), yt=[2, 4, 6],
         cats=SEX, xt="Gender", data=[kirc_f, kirc_m], br=[(1, 2, "0.0096", 6.27)]),
    dict(title="LIHC", col=1, px=(198.5, 350), py=(416.7, 571.7), yr=(0.18, 4.29), yt=[1, 2, 3, 4],
         cats=SEX, xt="Gender", data=[lihcb_f, lihcb_m], br=[(1, 2, "0.00048", 4.09)]),
    dict(title="LUSC", col=2, px=(377.7, 529), py=(416.7, 571.7), yr=(0.34, 6.74), yt=[2, 4, 6],
         cats=SEX, xt="Gender", data=[lusc_f, lusc_m], br=[(1, 2, "0.0014", 6.41)]),
    dict(title="SARC", col=3, px=(556, 707), py=(416.7, 571.7), yr=(0.52, 5.86), yt=[1, 2, 3, 4, 5],
         cats=SEX, xt="Gender", data=[sarc_f, sarc_m], br=[(1, 2, "0.029", 5.58)]),
    dict(tag="(C)", title="CHOL", col=0, px=(20.5, 172), py=(621.7, 776), yr=(0.73, 6.9), yt=[1, 2, 3, 4, 5, 6],
         cats=STAGE4, xt="AJCC_stage", data=[chol_s1, chol_s2, chol_s3, chol_s4],
         br=[(1, 2, "0.9", 4.56), (1, 3, "0.12", 4.94), (1, 4, "0.035", 5.36), (2, 3, "0.2", 5.75), (2, 4, "0.11", 6.17), (3, 4, "0.25", 6.57)]),
    dict(title="KIRP", col=1, px=(199, 350), py=(621.7, 776), yr=(-0.15, 7.69), yt=[0, 2, 4, 6],
         cats=STAGE4, xt="AJCC_stage", data=[kirpc_s1, kirpc_s2, kirpc_s3, kirpc_s4],
         br=[(1, 2, "0.92", 4.73), (1, 3, "0.0065", 5.20), (1, 4, "0.19", 5.75), (2, 3, "0.12", 6.25), (2, 4, "0.39", 6.79), (3, 4, "0.96", 7.30)]),
    dict(title="LUAD", col=2, px=(377.7, 529), py=(621.7, 776), yr=(0.36, 7.65), yt=[2, 4, 6],
         cats=STAGE4, xt="AJCC_stage", data=[luad_s1, luad_s2, luad_s3, luad_s4],
         br=[(1, 2, "0.44", 4.88), (1, 3, "0.023", 5.33), (1, 4, "0.58", 5.84), (2, 3, "0.2", 6.31), (2, 4, "0.89", 6.82), (3, 4, "0.35", 7.29)]),
    dict(title="PAAD", col=3, px=(556.7, 707), py=(621.7, 776), yr=(0.2, 7.9), yt=[2, 4, 6],
         cats=STAGE4, xt="AJCC_stage", data=[paadc_s1, paadc_s2, paadc_s3, paadc_s4],
         br=[(1, 2, "0.038", 5.0), (1, 3, "0.74", 5.47), (1, 4, "0.26", 6.0), (2, 3, "0.7", 6.5), (2, 4, "0.75", 7.04), (3, 4, "0.63", 7.54)]),
    dict(title="SKCM", col=0, px=(21.5, 172), py=(821, 974.3), yr=(0.1, 5.39), yt=[1, 2, 3, 4, 5],
         cats=STAGE4, xt="AJCC_stage", data=[skcm_s1, skcm_s2, skcm_s3, skcm_s4],
         br=[(1, 2, "0.84", 3.38), (1, 3, "0.82", 3.73), (1, 4, "0.2", 4.08), (2, 3, "0.73", 4.42), (2, 4, "0.0052", 4.79), (3, 4, "0.013", 5.14)]),
    dict(title="STAD", col=1, px=(209.3, 350), py=(821, 974.3), yr=(-0.42, 12.36), yt=[0, 2.5, 5, 7.5, 10],
         ytext=["0.0", "2.5", "5.0", "7.5", "10.0"],
         cats=STAGE4, xt="AJCC_stage", data=[stad_s1, stad_s2, stad_s3, stad_s4],
         br=[(1, 2, "0.00033", 7.5), (1, 3, "0.00042", 8.36), (1, 4, "0.066", 9.19), (2, 3, "0.88", 10.03), (2, 4, "0.24", 10.92), (3, 4, "0.25", 11.75)]),
    dict(title="TGCT", col=2, px=(377.7, 529), py=(821, 974.3), yr=(1.21, 6.24), yt=[2, 3, 4, 5, 6],
         cats=STAGE3, xt="AJCC_stage", data=[tgct_s1, tgct_s2, tgct_s3],
         br=[(1, 2, "0.18", 5.15), (1, 3, "0.021", 5.59), (2, 3, "0.67", 6.0)]),
    dict(title="THCA", col=3, px=(556.7, 707), py=(821, 974.3), yr=(0.33, 6.14), yt=[2, 4, 6],
         cats=STAGE4, xt="AJCC_stage", data=[thca_s1, thca_s2, thca_s3, thca_s4],
         br=[(1, 2, "0.66", 3.93), (1, 3, "0.013", 4.32), (1, 4, "0.00021", 4.70), (2, 3, "0.17", 5.08), (2, 4, "0.0039", 5.48), (3, 4, "0.064", 5.86)]),
]

fig = go.Figure()
layout = dict(width=W, height=H, margin=dict(l=0, r=0, t=0, b=0), paper_bgcolor="white",
              plot_bgcolor="white", showlegend=False, boxmode="overlay",
              font=dict(family=FONT, color=AX))
shapes, annots = [], []

def fx(px):
    return px / W

def fy(py):
    return 1 - py / H

for k, p in enumerate(panels, start=1):
    sfx = "" if k == 1 else str(k)
    xr, yref = "x" + sfx, "y" + sfx
    x0, x1 = p["px"]
    t, b = p["py"]
    n = len(p["cats"])
    layout["xaxis" + sfx] = dict(domain=[fx(x0), fx(x1)], anchor=yref, range=[0.4, n + 0.6],
                                 tickvals=list(range(1, n + 1)), showticklabels=False,
                                 showline=True, linecolor=AX, linewidth=1, ticks="outside",
                                 ticklen=3, tickwidth=1, tickcolor=AX, showgrid=False, zeroline=False,
                                 fixedrange=True)
    layout["yaxis" + sfx] = dict(domain=[fy(b), fy(t)], anchor=xr, range=list(p["yr"]),
                                 tickvals=p["yt"], ticktext=p.get("ytext", [str(v) for v in p["yt"]]),
                                 showline=True, linecolor=AX, linewidth=1, ticks="outside",
                                 ticklen=3, tickwidth=1, tickcolor=AX, showgrid=False, zeroline=False,
                                 tickfont=dict(size=8.5, color=AX, family=FONT), fixedrange=True)
    for gi, vals in enumerate(p["data"]):
        fig.add_trace(go.Box(x=[gi + 1] * len(vals), y=vals, xaxis=xr, yaxis=yref, width=0.7,
                             boxpoints="all", jitter=0.75, pointpos=0, whiskerwidth=0,
                             marker=dict(color=PT[gi], size=4, line=dict(width=0)),
                             line=dict(color=BX[gi], width=1), fillcolor="rgba(255,255,255,0)",
                             hoverinfo="y"))
    # category (x tick) labels, placed right under the axis like the reference
    for ci, cat in enumerate(p["cats"]):
        annots.append(dict(x=ci + 1, y=fy(b + 8.5), xref=xr, yref="paper", text=cat, showarrow=False,
                           xanchor="center", yanchor="middle",
                           font=dict(size=8.5, color=AX, family=FONT)))
    # significance brackets
    tip = 3.5 * (p["yr"][1] - p["yr"][0]) / (b - t)
    for (i, j, lab, yv) in p["br"]:
        shapes.append(dict(type="path", xref=xr, yref=yref,
                           path=f"M {i},{yv - tip} L {i},{yv} L {j},{yv} L {j},{yv - tip}",
                           line=dict(color="#808080", width=1)))
        annots.append(dict(x=(i + j) / 2, y=yv, xref=xr, yref=yref, text=lab, showarrow=False,
                           yanchor="bottom", yshift=-2, borderpad=0,
                           font=dict(size=8.5, color=AX, family=FONT)))
    # panel title
    annots.append(dict(x=fx(x0 + 1), y=fy(t - 7.5), xref="paper", yref="paper", text=p["title"],
                       showarrow=False, xanchor="left", yanchor="middle",
                       font=dict(size=12, color="#111111", family=FONT)))
    if p.get("tag"):
        annots.append(dict(x=0, y=fy(t - 7.5), xref="paper", yref="paper", text="<b>" + p["tag"] + "</b>",
                           showarrow=False, xanchor="left", yanchor="middle",
                           font=dict(size=12, color="#111111", family=FONT)))
    # axis titles
    annots.append(dict(x=fx((x0 + x1) / 2), y=fy(b + 19.5), xref="paper", yref="paper", text=p["xt"],
                       showarrow=False, xanchor="center", yanchor="middle",
                       font=dict(size=9, color="#222222", family=FONT)))
    annots.append(dict(x=fx(YT_X[p["col"]]), y=fy((t + b) / 2), xref="paper", yref="paper",
                       text="BCAT1 expression", textangle=-90, showarrow=False,
                       xanchor="center", yanchor="middle",
                       font=dict(size=9, color="#222222", family=FONT)))

layout["shapes"] = shapes
layout["annotations"] = annots
fig.update_layout(**layout)
fig.write_html("out.html", config={"displayModeBar": False, "staticPlot": True},
               post_script="document.body.style.margin='0';document.body.style.overflow='hidden';")
